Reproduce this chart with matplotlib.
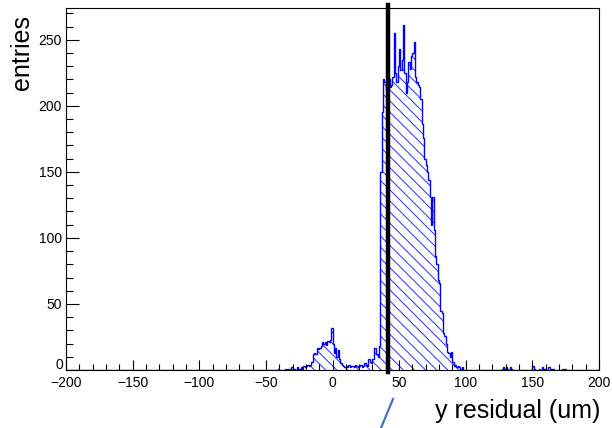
import numpy as np
import matplotlib
matplotlib.use("Agg")
import matplotlib.pyplot as plt
from matplotlib.ticker import MultipleLocator, FuncFormatter
from matplotlib.lines import Line2D

plt.rcParams['font.family'] = ['Liberation Sans', 'DejaVu Sans']
plt.rcParams['hatch.linewidth'] = 0.75

# histogram: 1 um bins from -200 to 200
x_min, x_max = -200, 200

# contiguous block of bin contents, first bin starts at block_start
block_start = -42
block_counts = [
    # -42 .. -16 : left tail
    0, 1, 0, 0, 0, 0, 1, 0, 1, 1, 0, 2, 0, 1, 0, 2, 1, 1, 2, 1, 3, 2, 3, 4, 3, 4, 6,
    # -15 .. 7 : small peak near zero
    12, 13, 12, 17, 16, 17, 18, 21, 20, 21, 19, 22, 21, 23, 32, 20, 13, 17, 10, 15, 8, 5, 4,
    # 8 .. 36 : plateau before main peak
    3, 2, 3, 2, 4, 2, 3, 3, 2, 4, 3, 2, 3, 4, 2, 3, 5, 4, 3, 8, 6, 5, 8, 17, 17, 12, 10, 18, 150,
    # 37 .. 66 : main peak top
    195, 220, 218, 212, 216, 220, 214, 216, 222, 255, 225, 218, 230, 243, 227, 235, 261,
    225, 210, 218, 233, 228, 238, 240, 248, 222, 218, 216, 214, 205,
    # 67 .. 99 : falling edge
    186, 176, 160, 155, 150, 144, 131, 110, 131, 106, 86, 80, 68, 66, 45, 43, 28, 26,
    20, 14, 13, 10, 14, 6, 3, 4, 2, 3, 2, 1, 2, 0, 0,
]

# isolated entries in the right tail
tail_bins = [127, 128, 129, 130, 131, 133, 134, 150, 151, 155, 157, 159, 162, 163, 165, 172, 174]
tail_counts = [1, 2, 1, 2, 1, 2, 1, 3, 1, 1, 2, 1, 2, 1, 1, 1, 1]

cut_position = 41.3

edges = np.arange(x_min, x_max + 1, 1)
counts = np.zeros(len(edges) - 1)
i0 = block_start - x_min
counts[i0:i0 + len(block_counts)] = block_counts
for b, c in zip(tail_bins, tail_counts):
    counts[b - x_min] = c

W, H = 612, 428
fig = plt.figure(figsize=(W / 100, H / 100), dpi=100)
ax = fig.add_axes([66 / W, 1 - 370 / H, (599 - 66) / W, (370 - 8) / H])

blue = '#0000ff'
ax.stairs(counts, edges, fill=True, facecolor='none', edgecolor='#3a3aff',
          hatch='\\\\\\', linewidth=0)
ax.stairs(counts, edges, color=blue, linewidth=1.0)

ax.axvline(cut_position, ymin=-0.005, ymax=1.008, color='black', linewidth=3.2,
           clip_on=False, zorder=5)

ax.set_xlim(x_min, x_max)
ax.set_ylim(0, 1.05 * counts.max())

ax.xaxis.set_major_locator(MultipleLocator(50))
ax.xaxis.set_minor_locator(MultipleLocator(10))
ax.yaxis.set_major_locator(MultipleLocator(50))
ax.yaxis.set_minor_locator(MultipleLocator(10))
# the y "0" is placed separately, a little above the x labels
ax.yaxis.set_major_formatter(FuncFormatter(lambda v, p: '' if v == 0 else f'{v:g}'))

ax.tick_params(axis='both', which='both', direction='in', top=False, right=False,
               labelsize=10, width=0.8, color='black')
ax.tick_params(axis='x', which='major', length=7.5, pad=4)
ax.tick_params(axis='x', which='minor', length=4.5)
ax.tick_params(axis='y', which='major', length=9.5, pad=3)
ax.tick_params(axis='y', which='minor', length=5)

for s in ax.spines.values():
    s.set_linewidth(0.8)

ax.annotate('0', xy=(0, 0), xycoords='axes fraction', xytext=(-2, 3.5),
            textcoords='offset points', ha='right', va='center', fontsize=10)

fig.text(22 / W, 1 - 15 / H, 'entries', rotation=90, fontsize=18,
         ha='center', va='top')
fig.text(600 / W, 1 - 411 / H, 'y residual (um)', fontsize=18,
         ha='right', va='center')

fig.add_artist(Line2D([393 / W, 381 / W], [1 - 399 / H, 1 - 428 / H],
                      transform=fig.transFigure, color='#4472c4', linewidth=1.6))

fig.savefig('out.png', dpi=100)
